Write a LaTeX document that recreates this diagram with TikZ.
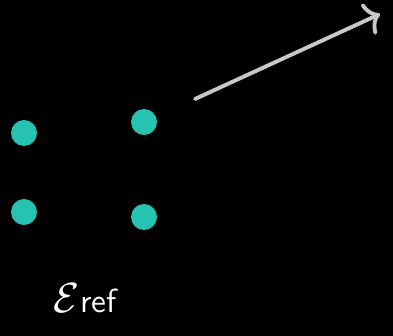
\documentclass[tikz,border=0pt]{standalone}
\usepackage{tikz}
\usetikzlibrary{arrows.meta}

\definecolor{pointcol}{RGB}{38,196,176}
\definecolor{arrowcol}{RGB}{200,200,200}

\begin{document}
\begin{tikzpicture}
  \path[use as bounding box] (0,0) rectangle (3.93,3.35);
  \draw[fill=black,black] (0,0) rectangle (3.93,3.35);

  \coordinate (p1) at (0.24,2.02);
  \coordinate (p2) at (1.44,2.13);
  \coordinate (p3) at (0.24,1.23);
  \coordinate (p4) at (1.44,1.18);

  \foreach \p in {p1,p2,p3,p4}
    \fill[pointcol] (\p) circle [radius=0.13cm];

  \coordinate (tail) at (1.95,2.36);
  \coordinate (head) at (3.80,3.21);
  \draw[arrowcol,line width=1.1pt,line cap=round,
    -{Computer Modern Rightarrow[length=1.4mm,width=3.4mm,line width=1.1pt]}] (tail) -- (head);

  \node[anchor=base,white,inner sep=0pt] (ref) at (0.85,0.23)
    {\fontsize{13}{15}\selectfont$\mathcal{E}$\kern0.3pt{\fontsize{9.5}{11}\selectfont\sffamily ref}};
\end{tikzpicture}
\end{document}
